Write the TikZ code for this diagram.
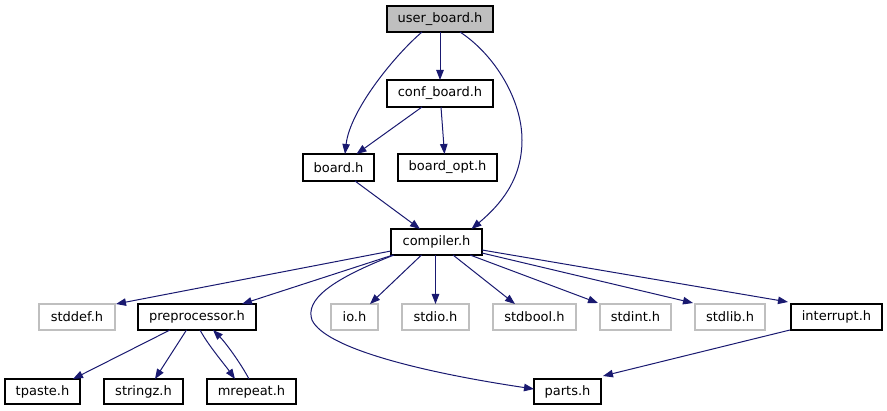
\documentclass[tikz,border=0pt]{standalone}
\usepackage{fontspec}
\setmainfont{DejaVu Sans}
\usepackage{xcolor}
\usepackage{tikz}
\usetikzlibrary{arrows.meta,positioning}

\definecolor{edgeblue}{HTML}{191970}
\definecolor{sysgray}{HTML}{BFBFBF}

\begin{document}
\begin{tikzpicture}[x=1pt,y=-1pt,
    hdr/.style={draw=black,line width=1.2pt,fill=white,minimum height=26pt,inner xsep=3pt,inner ysep=0pt,outer sep=0pt,font=\fontsize{13}{15}\selectfont},
    roothdr/.style={hdr,fill=sysgray},
    syshdr/.style={hdr,draw=sysgray},
    dep/.style={draw=edgeblue,line width=1pt,-{Triangle[length=10pt,width=7.5pt]}}]
  \useasboundingbox (0,0) rectangle (887,411);
  % top part
  \node[roothdr,minimum width=106pt] (user) at (440,19) {user\_board.h};
  \node[hdr,minimum width=106pt,minimum height=27pt,below=48pt of user] (conf) {conf\_board.h};
  \node[hdr,minimum width=71pt,minimum height=27pt] (board) at (338.5,167.5) {board.h};
  \node[hdr,minimum width=99pt,minimum height=27pt,right=24pt of board] (boardopt) {board\_opt.h};
  \node[hdr,minimum width=91pt] (compiler) at (436.5,242) {compiler.h};
  % what compiler.h pulls in
  \node[syshdr,minimum width=76pt] (stddef) at (77,317) {stddef.h};
  \node[hdr,minimum width=118pt,right=23pt of stddef] (preproc) {preprocessor.h};
  \node[syshdr,minimum width=47pt,right=75pt of preproc] (io) {io.h};
  \node[syshdr,minimum width=67pt,right=24pt of io] (stdio) {stdio.h};
  \node[syshdr,minimum width=83pt,right=24pt of stdio] (stdbool) {stdbool.h};
  \node[syshdr,minimum width=71pt,right=24pt of stdbool] (stdint) {stdint.h};
  \node[syshdr,minimum width=70pt,right=24pt of stdint] (stdlib) {stdlib.h};
  \node[hdr,minimum width=91pt,right=26pt of stdlib] (interrupt) {interrupt.h};
  % bottom row
  \node[hdr,minimum width=75pt,minimum height=25pt] (tpaste) at (42.5,391.5) {tpaste.h};
  \node[hdr,minimum width=79pt,minimum height=25pt,right=24pt of tpaste] (stringz) {stringz.h};
  \node[hdr,minimum width=89pt,minimum height=25pt,right=24pt of stringz] (mrepeat) {mrepeat.h};
  \node[hdr,minimum width=67pt,minimum height=25pt] (parts) at (567.5,391.5) {parts.h};

  \draw[dep] ([xshift=-18pt]user.south) .. controls (395,55) and (350,110) .. ([xshift=6.5pt]board.north);
  \draw[dep] (user.south) -- (conf.north);
  \draw[dep] ([xshift=20pt]user.south) .. controls (495,55) and (522,100) .. (522,140)
    .. controls (522,180) and (500,205) .. ([xshift=35pt]compiler.north);
  \draw[dep] ([xshift=-18pt]conf.south) -- ([xshift=18pt]board.north);
  \draw[dep] ([xshift=1pt]conf.south) -- ([xshift=-3pt]boardopt.north);
  \draw[dep] ([xshift=16.5pt]board.south) -- ([xshift=-16.5pt]compiler.north);
  \draw[dep] ([yshift=4pt]compiler.south west) -- ([xshift=1pt]stddef.north east);
  \draw[dep] ([xshift=2pt]compiler.south west) -- ([xshift=-14pt]preproc.north east);
  \draw[dep] ([xshift=3pt]compiler.south west) .. controls (330,280) and (305,300) .. (312,320)
    .. controls (325,348) and (420,372) .. ([yshift=2.5pt]parts.west);
  \draw[dep] ([xshift=-15pt]compiler.south) -- ([xshift=15.5pt]io.north);
  \draw[dep] ([xshift=-1pt]compiler.south) -- (stdio.north);
  \draw[dep] ([xshift=16.5pt]compiler.south) -- ([xshift=-19.5pt]stdbool.north);
  \draw[dep] ([xshift=33.5pt]compiler.south) -- ([xshift=-2pt,yshift=1pt]stdint.north west);
  \draw[dep] ([yshift=2pt]compiler.south east) -- ([xshift=-2pt,yshift=1pt]stdlib.north west);
  \draw[dep] ([yshift=5pt]compiler.south east) -- ([xshift=-3pt,yshift=2pt]interrupt.north west);
  \draw[dep] ([xshift=-1pt]interrupt.south west) -- ([xshift=2pt,yshift=3pt]parts.north east);
  \draw[dep] ([xshift=-27pt]preproc.south) -- ([xshift=-7pt]tpaste.north east);
  \draw[dep] ([xshift=-10.5pt]preproc.south) -- ([xshift=11.5pt]stringz.north);
  \draw[dep] ([xshift=3pt]preproc.south) .. controls (208,345) and (225,365) .. ([xshift=-16.5pt]mrepeat.north);
  \draw[dep] ([xshift=-2.5pt]mrepeat.north) .. controls (240,362) and (225,342) .. ([xshift=16pt]preproc.south);
\end{tikzpicture}
\end{document}
